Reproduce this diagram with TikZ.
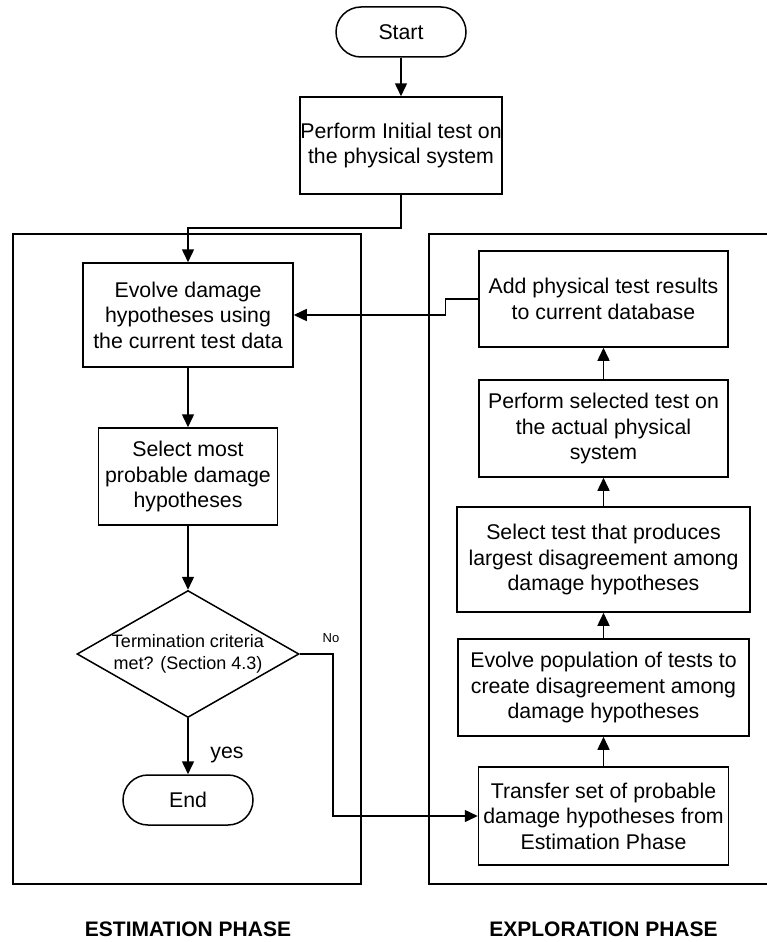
\documentclass[tikz,border=0pt]{standalone}
\usepackage{fontspec}
\setmainfont{Liberation Sans}
\usetikzlibrary{arrows.meta,shapes.geometric}
\begin{document}
\begin{tikzpicture}[x=1pt,y=-1pt,
  line width=1.5pt,
  every node/.style={font=\fontsize{21.3}{25.5}\selectfont, align=center},
  proc/.style={draw, rectangle, inner sep=0pt},
  term/.style={draw, rectangle, rounded corners=25pt, minimum width=130pt, minimum height=50pt, inner sep=0pt},
  decision/.style={draw, diamond, inner sep=0pt, minimum width=222pt, minimum height=127pt},
  flow/.style={-{Triangle[length=13pt,width=12pt]}},
  phase/.style={font=\fontsize{21}{25}\selectfont\bfseries, anchor=base, inner sep=0pt},
  small/.style={font=\fontsize{13}{15}\selectfont, anchor=base}
]
\useasboundingbox (0,0) rectangle (767,942);

% phase panels
\draw (13,234) rectangle (361,884);
\draw (767,234) -- (429,234) -- (429,884) -- (767,884);

% left column
\node[term] (start) at (401,32) {Start};
\node[proc, minimum width=202pt, minimum height=97pt] (init) at (401,145.5) {Perform Initial test on\\the physical system};
\node[proc, minimum width=210pt, minimum height=104pt] (evolve) at (188,315) {Evolve damage\\hypotheses using\\the current test data};
\node[proc, minimum width=179pt, minimum height=97pt] (select) at (188,476.5) {Select most\\probable damage\\hypotheses};
\node[decision, label={[font=\fontsize{18}{22}\selectfont, align=center]center:Termination criteria\\met? (Section 4.3)}] (crit) at (188,654) {};
\node[term] (end) at (188,800) {End};
\node[anchor=base] (yes) at (227,758) {yes};
\node[small] (no) at (331,642) {No};

% right column
\node[proc, minimum width=249pt, minimum height=96pt] (add) at (603.5,299) {Add physical test results\\to current database};
\node[proc, minimum width=249pt, minimum height=97pt] (perf) at (603.5,428.5) {Perform selected test on\\the actual physical\\system};
\node[proc, minimum width=293pt, minimum height=105pt] (seltest) at (603.5,559.5) {Select test that produces\\largest disagreement among\\damage hypotheses};
\node[proc, minimum width=291pt, minimum height=97pt] (evpop) at (603.5,687.5) {Evolve population of tests to\\create disagreement among\\damage hypotheses};
\node[proc, minimum width=250pt, minimum height=98pt] (transfer) at (603.5,816) {Transfer set of probable\\damage hypotheses from\\Estimation Phase};

% phase labels
\node[phase] (estlabel) at (188,936) {ESTIMATION PHASE};
\node[phase] (explabel) at (603.5,936) {EXPLORATION PHASE};

% connectors
\draw[flow] (start) -- (init);
\draw[flow] (init.south) -- ++(0,33) -| (evolve.north);
\draw[flow] (evolve) -- (select);
\draw[flow] (select) -- (crit);
\draw[flow] (crit) -- (end);
\draw[flow] (crit.east) -- ++(33,0) |- (transfer.west);
\draw[flow] (transfer) -- (evpop);
\draw[flow] (evpop) -- (seltest);
\draw[flow] (seltest) -- (perf);
\draw[flow] (perf) -- (add);
\draw[flow] (add.west) -- ++(-33,0) |- (evolve.east);
\end{tikzpicture}
\end{document}
